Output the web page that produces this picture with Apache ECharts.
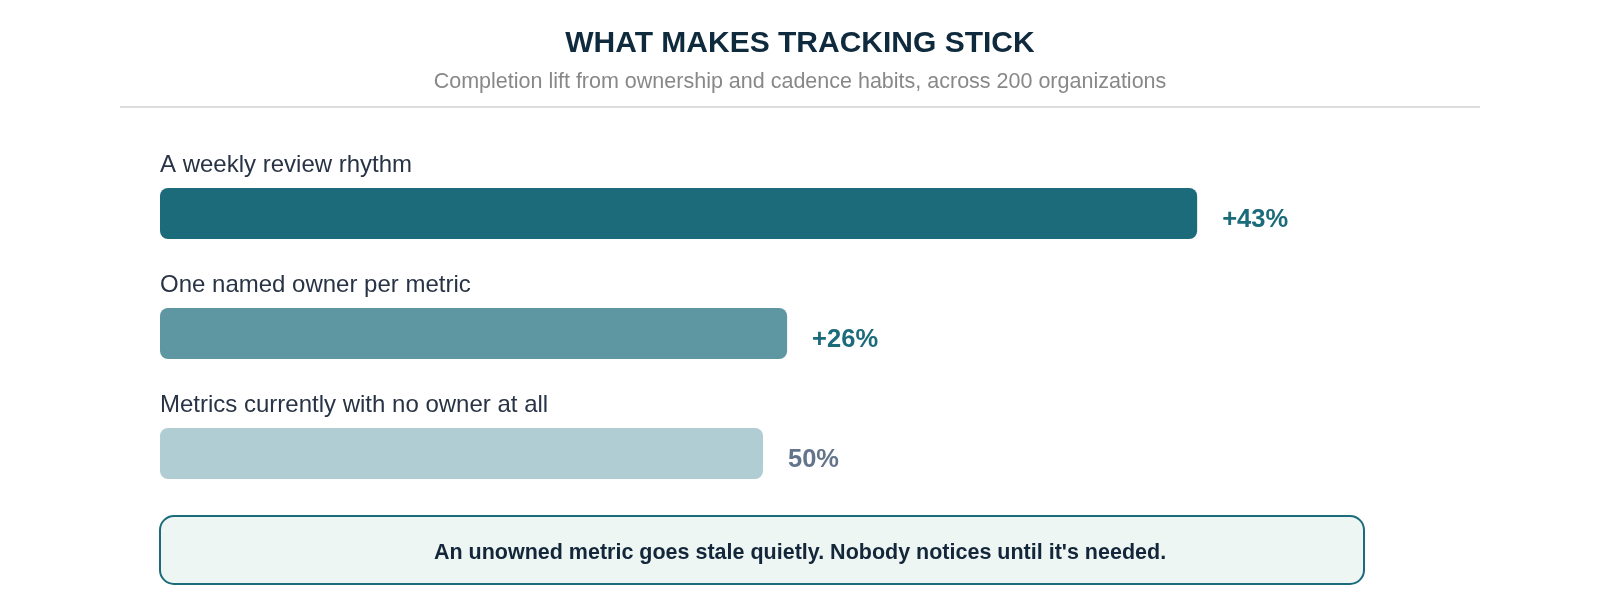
<!DOCTYPE html>
<html>
<head>
<meta charset="utf-8">
<script src="https://cdn.jsdelivr.net/npm/echarts@6/dist/echarts.min.js"></script>
<style>html,body{margin:0;padding:0;background:#fff}#c{width:1600px;height:600px}</style>
</head>
<body>
<div id="c"></div>
<script>
const categories = ["A weekly review rhythm", "One named owner per metric", "Metrics currently with no owner at all"];
const values = [43, 26, 50];
const kinds = ["lift", "lift", "share"];
const scaleMax = [50, 50, 100];
const barColors = ["#1b6b7b", "#5e97a2", "#b0cdd3"];
const labelColors = ["#1b6b7b", "#1b6b7b", "#64748b"];
const note = "An unowned metric goes stale quietly. Nobody notices until it's needed.";

const FONT = "'Liberation Sans', Arial, sans-serif";
const chart = echarts.init(document.getElementById('c'));

const barData = values.map((v, i) => ({
  value: v / scaleMax[i],
  itemStyle: { color: barColors[i] },
  label: { color: labelColors[i] }
}));

chart.setOption({
  animation: false,
  title: {
    text: "WHAT MAKES TRACKING STICK",
    subtext: "Completion lift from ownership and cadence habits, across 200 organizations",
    left: 'center',
    top: 24,
    itemGap: 12,
    textStyle: { fontFamily: FONT, fontSize: 30, fontWeight: 'bold', color: '#0f2a3d' },
    subtextStyle: { fontFamily: FONT, fontSize: 21.5, color: '#888888' }
  },
  grid: { left: 160, right: 234, top: 153.5, height: 360 },
  xAxis: { type: 'value', min: 0, max: 1, show: false },
  yAxis: {
    type: 'category',
    data: categories,
    inverse: true,
    show: false
  },
  series: [{
    type: 'bar',
    data: barData,
    barWidth: 51,
    itemStyle: { borderRadius: 8 },
    label: {
      show: true,
      position: 'right',
      distance: 25,
      offset: [0, 6],
      fontFamily: FONT,
      fontSize: 25.5,
      fontWeight: 'bold',
      formatter: (p) => (kinds[p.dataIndex] === 'lift' ? '+' : '') + values[p.dataIndex] + '%'
    }
  }, {
    type: 'scatter',
    symbolSize: 0,
    silent: true,
    clip: false,
    itemStyle: { opacity: 1 },
    data: categories.map((c, i) => [0, i]),
    label: {
      show: true,
      position: 'right',
      distance: 0,
      offset: [0, -48],
      opacity: 1,
      fontFamily: FONT,
      fontSize: 24,
      color: '#283445',
      formatter: (p) => categories[p.dataIndex]
    }
  }],
  graphic: [
    { type: 'line', shape: { x1: 120, y1: 107, x2: 1480, y2: 107 }, style: { stroke: '#dddddd', lineWidth: 2 } },
    { type: 'rect', shape: { x: 160, y: 516, width: 1204, height: 68, r: 14 },
      style: { fill: '#eef6f3', stroke: '#1b6b7b', lineWidth: 2 } },
    { type: 'text', x: 800, y: 553,
      style: { text: note, align: 'center', verticalAlign: 'middle', font: "bold 21.5px 'Liberation Sans', Arial, sans-serif", fill: '#13263a' } }
  ]
});
</script>
</body>
</html>
